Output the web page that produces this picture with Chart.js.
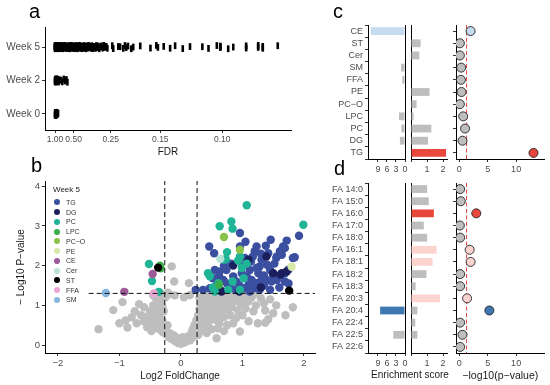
<!DOCTYPE html>
<html>
<head>
<meta charset="utf-8">
<script src="https://cdn.jsdelivr.net/npm/chart.js@4.4.1/dist/chart.umd.min.js"></script>
<style>
  body { margin: 0; background: #fff; }
  #fig { position: relative; width: 550px; height: 385px; overflow: hidden;
         font-family: 'Liberation Sans', Arial, sans-serif; color: #000; }
  #fig canvas { position: absolute; }
  .tag { position: absolute; font-size: 20px; line-height: 20px; }
  .txt { position: absolute; white-space: nowrap; }
  .dot { position: absolute; width: 6px; height: 6px; border-radius: 50%; }
</style>
</head>
<body>
<div id="fig">
  <div class="tag" style="left:29px;top:1px">a</div>
  <div class="tag" style="left:31px;top:155px">b</div>
  <div class="tag" style="left:333px;top:1px">c</div>
  <div class="tag" style="left:334px;top:158px">d</div>
  <div class="txt" style="left:360px;top:369px;width:100px;text-align:center;font-size:10px;line-height:12px;color:#1a1a1a">Enrichment score</div>
  <div id="legend"></div>
</div>
<script>
// ---- panel a: FDR strip per week ----
const weekLabels = ['Week 0', 'Week 2', 'Week 5'];
const fdrTicks = [1.00, 0.50, 0.25, 0.15, 0.10];
const fdrWeek0 = [1.00, 1.00, 0.99, 0.98, 0.97, 0.96, 0.95, 0.94, 0.92, 0.90, 0.88, 0.86];
const fdrWeek2 = [1.00, 1.00, 0.99, 0.98, 0.97, 0.96, 0.95, 0.94, 0.93, 0.92, 0.91, 0.90,
                  0.88, 0.86, 0.84, 0.80, 0.76, 0.72, 0.68, 0.65, 0.62, 0.60];
const fdrWeek5 = [1.00, 1.00, 1.00, 1.00, 1.00, 0.99, 0.99, 0.98, 0.98, 0.97, 0.96, 0.96, 0.95,
  0.94, 0.93, 0.92, 0.91, 0.90, 0.89, 0.88, 0.87, 0.86, 0.85, 0.84, 0.83, 0.82, 0.81, 0.80,
  0.79, 0.78, 0.77, 0.76, 0.75, 0.74, 0.73, 0.72, 0.71, 0.70, 0.69, 0.68, 0.67, 0.66, 0.65,
  0.64, 0.63, 0.62, 0.61, 0.60, 0.59, 0.58, 0.575, 0.57, 0.56, 0.555, 0.55, 0.54, 0.535, 0.53,
  0.52, 0.515, 0.51, 0.50, 0.495, 0.49, 0.485, 0.48, 0.47, 0.465, 0.46, 0.455, 0.45, 0.445,
  0.44, 0.435, 0.43, 0.425, 0.42, 0.415, 0.41, 0.405, 0.40, 0.395, 0.39, 0.385, 0.38, 0.375,
  0.37, 0.365, 0.36, 0.355, 0.35, 0.345, 0.34, 0.335, 0.33, 0.325, 0.32, 0.315, 0.31, 0.305,
  0.30, 0.296, 0.29, 0.286, 0.28, 0.276, 0.27, 0.266, 0.262,
  0.245, 0.242, 0.227, 0.222, 0.214, 0.21, 0.207, 0.203, 0.196, 0.192, 0.179, 0.163, 0.155,
  0.153, 0.146, 0.139, 0.134, 0.127, 0.121, 0.112, 0.108, 0.103, 0.101, 0.101, 0.0969,
  0.0944, 0.0886, 0.0886, 0.0838, 0.0838, 0.0821, 0.0821, 0.077];
const stripJitter = [0.01, -0.04, 0.045, -0.015, 0.03, -0.05, 0.0, 0.035, -0.03, 0.05,
                     -0.01, 0.02, -0.035, 0.04, -0.045, 0.015];

// ---- panel b: volcano, [log2 fold change, -log10 p] ----
const lipidClasses = ['TG', 'DG', 'PC', 'LPC', 'PC−O', 'PE', 'CE', 'Cer', 'ST', 'FFA', 'SM'];
const classColors = ['#3a4fa0', '#1b1f5e', '#1fb496', '#3bae4b', '#8bc34a', '#d6e9a8',
                     '#9c5b98', '#b8e2d8', '#000000', '#e9a6d3', '#85b5e0'];
const volcanoTG = [[0.24,1.39],[0.96,2.82],[0.96,2.48],[0.46,2.48],[0.54,2.31],[1.46,2.65],
  [1.72,2.63],[1.92,2.75],[1.23,2.48],[1.20,2.36],[1.17,2.23],[1.14,2.10],[1.04,2.19],[1.31,2.15],
  [1.42,2.31],[1.61,2.36],[1.66,2.48],[1.64,2.27],[1.55,2.19],[1.85,2.21],[1.40,2.02],[1.45,1.89],
  [1.28,1.98],[1.23,1.94],[1.26,1.81],[0.74,1.89],[0.63,1.85],[0.55,1.89],[0.62,1.73],[0.52,1.68],
  [0.69,1.64],[0.85,1.73],[1.07,1.73],[1.15,1.64],[1.23,1.56],[1.31,1.64],[1.39,1.64],[1.47,1.60],
  [1.56,1.64],[1.69,1.60],[1.10,1.52],[1.18,1.43],[1.28,1.39],[1.45,1.39],[1.04,1.43],[0.89,1.39],
  [0.47,1.43],[0.36,1.39],[0.80,1.47],[0.90,1.60],[0.99,1.81],[1.12,1.89],[1.69,2.44],[1.63,2.31],
  [1.56,2.23],[1.82,2.19],[1.69,1.81],[1.52,2.05],[1.35,1.75],[1.00,2.00],[0.82,2.05],[0.75,1.55],
  [0.58,1.50],[1.60,1.45],[1.75,1.90],[1.35,1.50],[1.50,1.75],[0.95,1.50],[1.12,1.35],[0.65,1.38],
  [1.05,2.60],[1.30,2.30],[1.75,1.55],[1.38,2.50],[0.70,2.00]];
const volcanoDG = [[1.10,2.15],[1.50,1.81],[1.62,1.77],[0.66,1.35],[1.39,2.23],[1.64,1.81],
  [1.72,1.85],[0.85,2.00],[1.30,1.45],[0.95,1.35]];
const volcanoPC = [[1.07,3.52],[0.63,2.99],[0.82,3.11],[0.84,2.93],[1.99,3.03],[0.75,2.34],
  [0.69,2.15],[0.44,1.81],[0.47,1.73],[0.61,1.56],[0.77,1.39],[0.96,2.23],[0.99,1.94],[1.02,1.68],
  [0.96,1.39],[0.93,2.13],[0.73,2.16],[0.52,1.45],[0.84,1.60],[1.07,2.05],[-0.52,2.04],[-0.47,1.61],
  [-0.36,1.34],[0.55,1.35]];
const volcanoLPC = [[-0.34,2.00],[-0.33,1.93],[0.62,1.52]];
const volcanoPCO = [[0.70,2.72],[0.96,2.40]];
const volcanoPE = [[1.80,1.97]];
const volcanoCE = [[-0.92,1.34],[-0.46,1.79]];
const volcanoCer = [[0.64,2.17]];
const volcanoST = [[-0.37,1.95],[1.76,1.37]];
const volcanoFFA = [[-0.44,1.30]];
const volcanoSM = [[-1.22,1.31]];
const volcanoByClass = [volcanoTG, volcanoDG, volcanoPC, volcanoLPC, volcanoPCO, volcanoPE,
                        volcanoCE, volcanoCer, volcanoST, volcanoFFA, volcanoSM];
const volcanoGrey = [[0,0.03],[-0.05,0.05],[0.05,0.06],[-0.1,0.1],[0.1,0.1],[-0.15,0.15],
  [0.15,0.12],[-0.02,0.15],[0.03,0.2],[-0.2,0.2],[0.2,0.2],[-0.25,0.28],[0.22,0.28],[0.28,0.25],
  [-0.3,0.33],[0.12,0.22],[-0.12,0.25],[0.25,0.35],[0.3,0.4],[0.35,0.35],[0.42,0.3],[-0.35,0.4],
  [-0.4,0.45],[-0.28,0.42],[0.2,0.42],[0.22,0.5],[0.28,0.55],[0.35,0.5],[0.4,0.45],[0.5,0.4],
  [0.58,0.17],[0.6,0.42],[0.7,0.35],[-0.45,0.5],[-0.5,0.55],[-0.38,0.58],[-0.6,0.6],[0.25,0.62],
  [0.3,0.68],[0.38,0.62],[0.45,0.58],[0.52,0.65],[0.62,0.55],[0.75,0.5],[0.85,0.55],[0.96,0.34],
  [-0.55,0.72],[-0.45,0.7],[-0.65,0.75],[-0.72,0.55],[0.28,0.75],[0.32,0.82],[0.4,0.75],[0.48,0.8],
  [0.55,0.72],[0.62,0.8],[0.7,0.7],[0.8,0.75],[0.9,0.68],[1.0,0.75],[1.1,0.6],[1.25,0.55],
  [1.37,0.56],[1.42,0.65],[-0.5,0.85],[-0.4,0.82],[-0.35,0.9],[-0.6,0.95],[0.3,0.9],[0.35,0.98],
  [0.42,0.9],[0.5,0.95],[0.58,0.88],[0.65,0.98],[0.72,0.9],[0.82,0.95],[0.92,0.88],[1.05,0.92],
  [1.18,0.85],[1.37,0.87],[1.5,0.8],[1.7,0.75],[-0.45,1.0],[-0.38,1.05],[-0.3,0.98],[-0.68,1.03],
  [0.32,1.05],[0.4,1.1],[0.48,1.05],[0.55,1.12],[0.62,1.05],[0.7,1.12],[0.78,1.05],[0.88,1.1],
  [0.98,1.02],[1.1,1.1],[1.22,1.0],[1.35,1.05],[1.55,1.0],[1.82,0.95],[-0.4,1.15],[-0.32,1.12],
  [-0.25,1.2],[0.3,1.2],[0.38,1.25],[0.45,1.18],[0.52,1.25],[0.6,1.2],[0.68,1.25],[0.78,1.2],
  [0.9,1.22],[1.0,1.18],[1.15,1.2],[1.3,1.18],[1.45,1.15],[-0.3,1.25],[-0.2,1.28],[-0.1,1.25],
  [0.05,1.2],[0.15,1.26],[-1.34,0.40],[-1.10,0.88],[-0.95,1.08],[-0.87,0.44],[-0.8,0.7],
  [-0.9,0.62],[-0.75,0.85],[-1.0,0.55],[-0.55,0.45],[-0.48,0.35],[-0.15,1.98],[-0.11,1.60],
  [0.13,1.56],[-0.21,1.32],[0.18,0.35],[0.25,0.45],[0.32,0.58],[0.4,0.68],[0.45,0.85],
  [0.5,1.0],[0.55,1.25],[0.6,0.6],[0.65,0.7],[0.35,1.15],[0.42,1.3],[0.5,1.3],[0.7,1.3],
  [0.85,1.28],[1.05,1.28],[1.2,1.3],[-0.25,0.35],[-0.18,0.3],[-0.08,0.2],[0.08,0.15],
  [-0.22,0.5],[-0.3,0.6],[-0.35,0.7],[-0.28,0.85],[-0.42,0.95],[-0.32,1.3],[-0.45,1.25]];
const foldCut = 0.263;
const pCut = 1.3;

// ---- panel c: lipid class enrichment ----
const cClasses = ['CE', 'ST', 'Cer', 'SM', 'FFA', 'PE', 'PC−O', 'LPC', 'PC', 'DG', 'TG'];
const cDepleted = [11.4, 0, 0, 1.3, 0.9, 0, 0, 2.0, 1.2, 1.7, 0];
const cEnriched = [0, 0.6, 0.52, 0, 0, 1.16, 0.35, 0.16, 1.27, 1.06, 2.19];
const cLogP = [2.0, 0.12, 0.12, 0.35, 0.3, 0.4, 0.12, 0.7, 1.03, 0.58, 13.05];
const cHighlight = ['#c6dbef', null, null, null, null, null, null, null, null, null, '#e8483c'];

// ---- panel d: fatty acid enrichment ----
const dClasses = ['FA 14:0', 'FA 15:0', 'FA 16:0', 'FA 17:0', 'FA 18:0', 'FA 16:1', 'FA 18:1',
                  'FA 18:2', 'FA 18:3', 'FA 20:3', 'FA 20:4', 'FA 22:4', 'FA 22:5', 'FA 22:6'];
const dDepleted = [0, 0, 0, 0, 0, 0, 0, 0, 0, 0, 8.3, 0, 3.9, 0];
const dEnriched = [1.01, 1.11, 1.43, 0.8, 1.01, 1.6, 1.35, 0.97, 0.29, 1.81, 0.4, 0.27, 0.4, 0];
const dLogP = [0.17, 0.29, 3.0, 0.12, 0.17, 1.84, 2.0, 0.17, 0.17, 1.38, 5.3, 0.17, 0.58, 0.17];
const dHighlight = [null, null, '#e8483c', null, null, '#fbd3cf', '#fbd3cf', null, null, '#fbd3cf',
                    '#3f78b0', null, null, null];

const GREY = '#bebebe';

Chart.defaults.font.family = "'Liberation Sans', Arial, sans-serif";
Chart.defaults.color = '#4d4d4d';
Chart.defaults.animation = false;
Chart.defaults.responsive = false;
Chart.defaults.plugins.legend.display = false;
Chart.defaults.plugins.tooltip.enabled = false;

const fig = document.getElementById('fig');

function place(left, top, w, h) {
  const c = document.createElement('canvas');
  c.width = w; c.height = h;
  c.style.left = left + 'px'; c.style.top = top + 'px';
  fig.insertBefore(c, fig.firstChild);
  return c.getContext('2d');
}

function axis(opts) {
  const a = Object.assign({}, opts);
  a.border = Object.assign({ display: true, color: '#000', width: 1 }, opts.border);
  a.grid = Object.assign({ drawOnChartArea: false, tickLength: 3, tickColor: '#333' }, opts.grid);
  a.ticks = Object.assign({ color: '#4d4d4d', font: { size: 9 }, padding: 2, autoSkip: false,
                            maxRotation: 0 }, opts.ticks);
  return a;
}
const fixedTicks = values => s => { s.ticks = values.map(v => ({ value: v })); };
const minus = v => String(v).replace('-', '−');
const axisTitle = (text, size, pad) => ({ display: true, text, color: '#1a1a1a', font: { size }, padding: pad });

// panel a
new Chart(place(0, 19, 300, 141), {
  type: 'scatter',
  data: {
    datasets: [fdrWeek0, fdrWeek2, fdrWeek5].map((list, row) => ({
      data: list.map((f, i) => ({ x: 1 / f, y: row + stripJitter[i % stripJitter.length] })),
      pointStyle: 'line', rotation: 90, pointRadius: 3.4, borderWidth: 2.6, borderColor: '#000'
    }))
  },
  options: {
    layout: { padding: { top: 8, right: 9, left: 0, bottom: 0 } },
    scales: {
      x: axis({ type: 'linear', min: 0.46, max: 13.7, afterBuildTicks: fixedTicks(fdrTicks.map(f => 1 / f)),
        ticks: { callback: v => (1 / v).toFixed(2), font: { size: 8.5 } },
        title: axisTitle('FDR', 10, { top: 0, bottom: 2 }), afterFit: s => { s.height = 30; } }),
      y: axis({ type: 'linear', min: -0.48, max: 2.6, afterBuildTicks: fixedTicks([0, 1, 2]),
        ticks: { callback: v => weekLabels[v], font: { size: 10 } }, afterFit: s => { s.width = 45; } })
    }
  }
});

// panel b
const toXY = list => list.map(p => ({ x: p[0], y: p[1] }));
const volcanoSets = [{ data: toXY(volcanoGrey), backgroundColor: GREY }]
  .concat(volcanoByClass.map((list, i) => ({ data: toXY(list), backgroundColor: classColors[i] })));
volcanoSets.forEach((d, i) => {
  d.pointRadius = 4.2; d.borderWidth = 0; d.order = volcanoSets.length - i + 1;
});
const dashed = pts => ({ type: 'line', data: pts, borderColor: '#111', borderWidth: 1,
  borderDash: [5, 3], pointRadius: 0, fill: false, order: 0 });
new Chart(place(0, 170, 320, 215), {
  type: 'scatter',
  data: {
    datasets: volcanoSets.concat([
      dashed([{ x: -foldCut, y: -0.2 }, { x: -foldCut, y: 4.13 }]),
      dashed([{ x: foldCut, y: -0.2 }, { x: foldCut, y: 4.13 }]),
      dashed([{ x: -1.5, y: pCut }, { x: 2.18, y: pCut }])
    ])
  },
  options: {
    layout: { padding: { top: 11, right: 5, left: 0, bottom: 0 } },
    scales: {
      x: axis({ type: 'linear', min: -2.21, max: 2.18, afterBuildTicks: fixedTicks([-2, -1, 0, 1, 2]),
        ticks: { callback: minus, font: { size: 9.5 } },
        title: axisTitle('Log2 FoldChange', 10, { top: 0, bottom: 3 }), afterFit: s => { s.height = 32; } }),
      y: axis({ type: 'linear', min: -0.2, max: 4.13, afterBuildTicks: fixedTicks([0, 1, 2, 3, 4]),
        ticks: { font: { size: 9.5 } },
        title: axisTitle('− Log10 P−value', 10, { top: 15, bottom: 0 }), afterFit: s => { s.width = 45; } })
    }
  }
});

// volcano legend
const legend = document.getElementById('legend');
let html = '<div class="txt" style="left:53px;top:185px;font-size:8px;line-height:10px;color:#1a1a1a">Week 5</div>';
lipidClasses.forEach((name, i) => {
  const y = 202.3 + i * 9.75;
  html += `<div class="dot" style="left:54.3px;top:${y - 3}px;background:${classColors[i]}"></div>` +
          `<div class="txt" style="left:66px;top:${y - 4.5}px;font-size:7px;line-height:9px;color:#333">${name}</div>`;
});
legend.innerHTML = html;

// panels c and d
function enrichmentRow(cfg) {
  const n = cfg.labels.length;
  const leftColors = cfg.labels.map((_, i) => cfg.highlight[i] && cfg.depleted[i] > cfg.enriched[i] ? cfg.highlight[i] : GREY);
  const midColors = cfg.labels.map((_, i) => cfg.highlight[i] && cfg.enriched[i] >= cfg.depleted[i] ? cfg.highlight[i] : GREY);
  const barSet = (data, colors) => ({ data, backgroundColor: colors, borderWidth: 0,
    barPercentage: 0.64, categoryPercentage: 1 });

  new Chart(place(300, cfg.top, 111, cfg.height), {
    type: 'bar',
    data: { labels: cfg.labels, datasets: [barSet(cfg.depleted, leftColors)] },
    options: {
      indexAxis: 'y',
      layout: { padding: { top: cfg.padTop, right: 6, left: 0, bottom: 0 } },
      scales: {
        x: axis({ type: 'linear', min: 0, max: 12.33, reverse: true, afterBuildTicks: fixedTicks([9, 6, 3, 0]),
          grid: { drawOnChartArea: true, color: c => (c.tick && c.tick.value === 0 ? '#000' : 'rgba(0,0,0,0)') },
          afterFit: s => { s.height = cfg.xHeight; } }),
        y: axis({ type: 'category', afterFit: s => { s.width = 68; } })
      }
    }
  });

  new Chart(place(405, cfg.top, 50, cfg.height), {
    type: 'bar',
    data: { labels: cfg.labels, datasets: [barSet(cfg.enriched, midColors)] },
    options: {
      indexAxis: 'y',
      layout: { padding: { top: cfg.padTop, right: 8, left: 6, bottom: 0 } },
      scales: {
        x: axis({ type: 'linear', min: 0, max: 2.25, afterBuildTicks: fixedTicks([0, 1, 2]),
          ticks: { callback: v => (v === 0 ? '' : v) }, afterFit: s => { s.height = cfg.xHeight; } }),
        y: axis({ type: 'category', grid: { display: false }, ticks: { display: false },
          afterFit: s => { s.width = 0; } })
      }
    }
  });

  new Chart(place(450, cfg.top, 100, cfg.rightHeight), {
    type: 'scatter',
    data: {
      datasets: [
        { data: cfg.logP.map((v, i) => ({ x: v, y: i })), pointRadius: 4.5,
          backgroundColor: cfg.labels.map((_, i) => cfg.highlight[i] || GREY),
          borderColor: '#222', borderWidth: 0.9, order: 1 },
        { type: 'line', data: [{ x: pCut, y: -0.5 }, { x: pCut, y: n - 0.5 }], borderColor: '#e03c3c',
          borderWidth: 1, borderDash: [4, 2.5], pointRadius: 0, fill: false, order: 2 }
      ]
    },
    options: {
      layout: { padding: { top: cfg.padTop, right: 2, left: 0, bottom: 0 } },
      scales: {
        x: axis({ type: 'linear', min: -0.56, max: 15, afterBuildTicks: fixedTicks([0, 5, 10]),
          title: cfg.title ? axisTitle(cfg.title, 10.5, { top: 0, bottom: 3 }) : undefined,
          afterFit: s => { s.height = cfg.rightXHeight; } }),
        y: axis({ type: 'linear', reverse: true, min: -0.5, max: n - 0.5,
          afterBuildTicks: fixedTicks(cfg.labels.map((_, i) => i)), ticks: { display: false },
          afterFit: s => { s.width = 6; } })
      }
    }
  });
}

enrichmentRow({ labels: cClasses, depleted: cDepleted, enriched: cEnriched, logP: cLogP,
  highlight: cHighlight, top: 15, height: 165, padTop: 10, xHeight: 21,
  rightHeight: 165, rightXHeight: 21 });
enrichmentRow({ labels: dClasses, depleted: dDepleted, enriched: dEnriched, logP: dLogP,
  highlight: dHighlight, top: 175, height: 200, padTop: 8, xHeight: 22,
  rightHeight: 210, rightXHeight: 32, title: '−log10(p−value)' });
</script>
</body>
</html>
